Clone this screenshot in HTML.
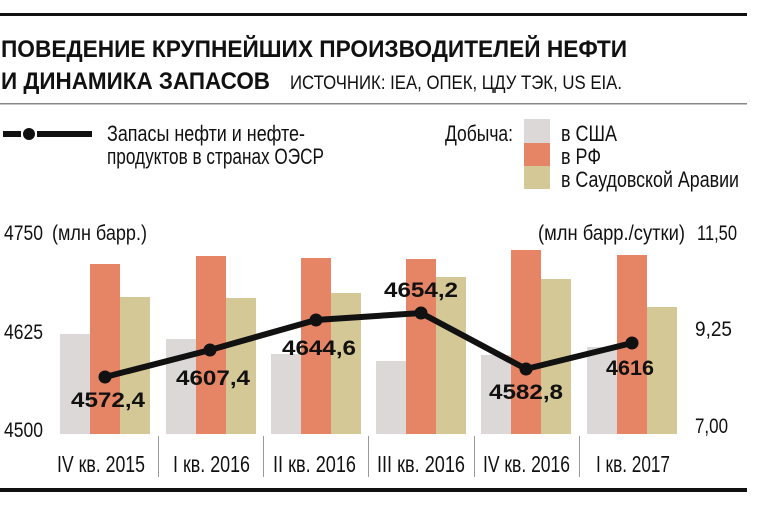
<!DOCTYPE html>
<html><head><meta charset="utf-8"><style>
html,body{margin:0;padding:0;background:#fff;}
svg{display:block;font-family:"Liberation Sans",sans-serif;}
</style></head><body>
<svg width="764" height="505" viewBox="0 0 764 505" xmlns="http://www.w3.org/2000/svg">
<rect x="0" y="13" width="747" height="3" fill="#111"/>
<rect x="0" y="103" width="747" height="1.5" fill="#888"/>
<rect x="0" y="488" width="747" height="4" fill="#111"/>
<text x="1" y="57" font-size="24" font-weight="bold" textLength="626" lengthAdjust="spacingAndGlyphs" fill="#111">ПОВЕДЕНИЕ КРУПНЕЙШИХ ПРОИЗВОДИТЕЛЕЙ НЕФТИ</text>
<text x="1" y="89" font-size="24" font-weight="bold" textLength="269" lengthAdjust="spacingAndGlyphs" fill="#111">И ДИНАМИКА ЗАПАСОВ</text>
<text x="290" y="89" font-size="19" textLength="332" lengthAdjust="spacingAndGlyphs" fill="#111">ИСТОЧНИК: IEA, ОПЕК, ЦДУ ТЭК, US EIA.</text>
<!-- legend left -->
<rect x="3" y="131" width="18" height="6" fill="#111"/>
<circle cx="29" cy="134" r="6" fill="#111"/>
<rect x="37" y="131" width="55" height="6" fill="#111"/>
<text x="107" y="141" font-size="22" textLength="198" lengthAdjust="spacingAndGlyphs" fill="#111">Запасы нефти и нефте-</text>
<text x="107" y="164" font-size="22" textLength="217" lengthAdjust="spacingAndGlyphs" fill="#111">продуктов в странах ОЭСР</text>
<!-- legend right -->
<text x="445" y="141" font-size="22" textLength="68" lengthAdjust="spacingAndGlyphs" fill="#111">Добыча:</text>
<rect x="524" y="119" width="26" height="24" fill="#dcd8d8"/>
<rect x="524" y="143" width="26" height="23" fill="#e68466"/>
<rect x="524" y="166" width="26" height="23" fill="#d4c996"/>
<text x="561" y="141" font-size="22" textLength="56" lengthAdjust="spacingAndGlyphs" fill="#111">в США</text>
<text x="561" y="164" font-size="22" textLength="40" lengthAdjust="spacingAndGlyphs" fill="#111">в РФ</text>
<text x="561" y="187" font-size="22" textLength="178" lengthAdjust="spacingAndGlyphs" fill="#111">в Саудовской Аравии</text>
<!-- axes labels -->
<g font-size="21" fill="#111">
<text x="4" y="240" textLength="39" lengthAdjust="spacingAndGlyphs">4750</text>
<text x="52" y="240" textLength="95" lengthAdjust="spacingAndGlyphs">(млн барр.)</text>
<text x="4" y="339" textLength="39" lengthAdjust="spacingAndGlyphs">4625</text>
<text x="4" y="437" textLength="39" lengthAdjust="spacingAndGlyphs">4500</text>
<text x="538" y="240" textLength="147" lengthAdjust="spacingAndGlyphs">(млн барр./сутки)</text>
<text x="697" y="240" textLength="40" lengthAdjust="spacingAndGlyphs">11,50</text>
<text x="695" y="336" textLength="37" lengthAdjust="spacingAndGlyphs">9,25</text>
<text x="695" y="433" textLength="33" lengthAdjust="spacingAndGlyphs">7,00</text>
</g>
<!-- bars -->
<g>
<rect x="60" y="334" width="30" height="100" fill="#dcd8d8"/><rect x="90" y="264" width="30" height="170" fill="#e68466"/><rect x="120" y="297" width="30" height="137" fill="#d4c996"/>
<rect x="166" y="339" width="30" height="95" fill="#dcd8d8"/><rect x="196" y="256" width="30" height="178" fill="#e68466"/><rect x="226" y="298" width="30" height="136" fill="#d4c996"/>
<rect x="271" y="354" width="30" height="80" fill="#dcd8d8"/><rect x="301" y="258" width="30" height="176" fill="#e68466"/><rect x="331" y="293" width="30" height="141" fill="#d4c996"/>
<rect x="376" y="361" width="30" height="73" fill="#dcd8d8"/><rect x="406" y="259" width="30" height="175" fill="#e68466"/><rect x="436" y="277" width="30" height="157" fill="#d4c996"/>
<rect x="481" y="355" width="30" height="79" fill="#dcd8d8"/><rect x="511" y="250" width="30" height="184" fill="#e68466"/><rect x="541" y="279" width="30" height="155" fill="#d4c996"/>
<rect x="587" y="347" width="30" height="87" fill="#dcd8d8"/><rect x="617" y="255" width="30" height="179" fill="#e68466"/><rect x="647" y="307" width="30" height="127" fill="#d4c996"/>
</g>
<!-- separators -->
<g fill="#999">
<rect x="158" y="436" width="1" height="41"/><rect x="263" y="436" width="1" height="41"/><rect x="368" y="436" width="1" height="41"/><rect x="474" y="436" width="1" height="41"/><rect x="579" y="436" width="1" height="41"/>
</g>
<!-- line -->
<polyline points="105,377 210,350 316,320 421,313 526,369 632,343" fill="none" stroke="#111" stroke-width="6"/>
<g fill="#111">
<circle cx="105" cy="377" r="6.5"/><circle cx="210" cy="350" r="6.5"/><circle cx="316" cy="320" r="6.5"/><circle cx="421" cy="313" r="6.5"/><circle cx="526" cy="369" r="6.5"/><circle cx="632" cy="343" r="6.5"/>
</g>
<g font-size="21" font-weight="bold" fill="#111" text-anchor="middle">
<text x="108" y="407" textLength="74" lengthAdjust="spacingAndGlyphs">4572,4</text>
<text x="213" y="385" textLength="74" lengthAdjust="spacingAndGlyphs">4607,4</text>
<text x="319" y="355" textLength="74" lengthAdjust="spacingAndGlyphs">4644,6</text>
<text x="421" y="297" textLength="74" lengthAdjust="spacingAndGlyphs">4654,2</text>
<text x="526" y="399" textLength="74" lengthAdjust="spacingAndGlyphs">4582,8</text>
<text x="630" y="375" textLength="48" lengthAdjust="spacingAndGlyphs">4616</text>
</g>
<!-- categories -->
<g font-size="23" fill="#111">
<text x="57" y="472" textLength="88" lengthAdjust="spacingAndGlyphs">IV кв. 2015</text>
<text x="173" y="472" textLength="77" lengthAdjust="spacingAndGlyphs">I кв. 2016</text>
<text x="273" y="472" textLength="83" lengthAdjust="spacingAndGlyphs">II кв. 2016</text>
<text x="377" y="472" textLength="88" lengthAdjust="spacingAndGlyphs">III кв. 2016</text>
<text x="483" y="472" textLength="87" lengthAdjust="spacingAndGlyphs">IV кв. 2016</text>
<text x="596" y="472" textLength="74" lengthAdjust="spacingAndGlyphs">I кв. 2017</text>
</g>
</svg>
</body></html>
